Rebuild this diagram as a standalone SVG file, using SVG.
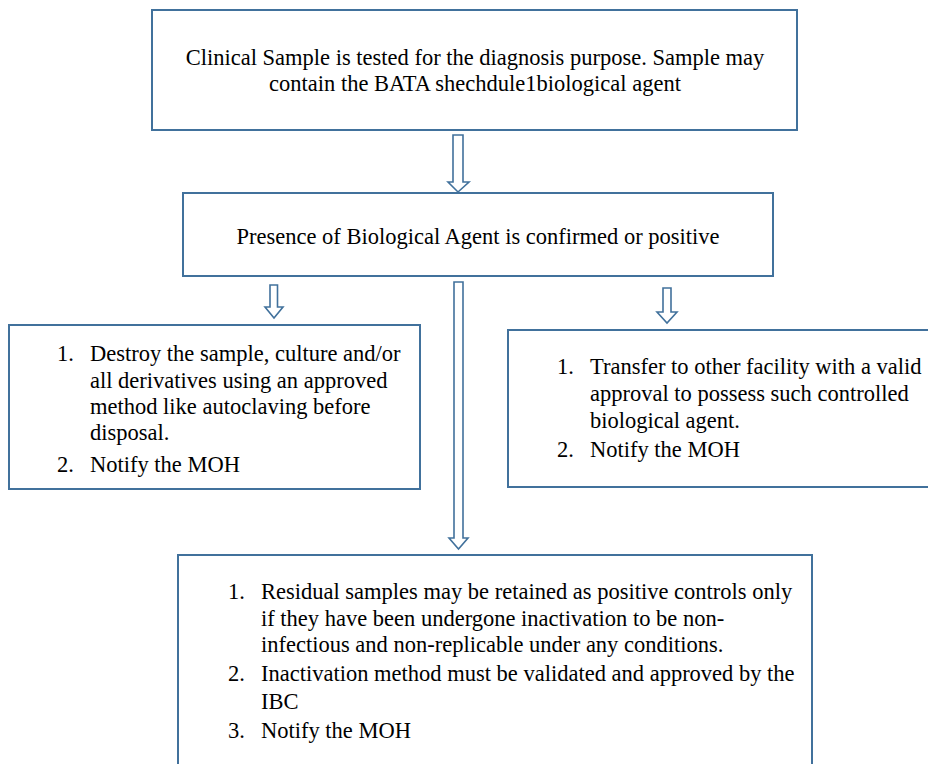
<svg xmlns="http://www.w3.org/2000/svg" width="928" height="764" viewBox="0 0 928 764">
<style>
.box{fill:#fff;stroke:#41719c;stroke-width:2}
.arr{fill:#fff;stroke:#41719c;stroke-width:1.6;stroke-linejoin:miter}
text{font-family:"Liberation Serif","Times New Roman",serif;font-size:22.5px;fill:#000}
.c{text-anchor:middle}
</style>
<rect width="928" height="764" fill="#fff"/>
<g id="connectors">
<path class="arr" d="M453,135 H463 V182 H469 L458,192 L448,182 H453 Z"/>
<path class="arr" d="M270,285 H277.5 V307 H283 L274,318 L265,307 H270 Z"/>
<path class="arr" d="M454,282 H463 V538 H468 L458.5,549 L449,538 H454 Z"/>
<path class="arr" d="M663,288 H671 V312 H677 L667,323 L657,312 H663 Z"/>
</g>
<g id="n1">
<rect class="box" x="152" y="10" width="645" height="120"/>
<text class="c" x="475" y="65">Clinical Sample is tested for the diagnosis purpose. Sample may</text>
<text class="c" x="475" y="91">contain the BATA shechdule1biological agent</text>
</g>
<g id="n2">
<rect class="box" x="183" y="193" width="590" height="83"/>
<text class="c" x="478" y="244">Presence of Biological Agent is confirmed or positive</text>
</g>
<g id="n3">
<rect class="box" x="9" y="325" width="411" height="164"/>
<text x="57" y="361">1.</text>
<text x="90" y="361">Destroy the sample, culture and/or</text>
<text x="90" y="388">all derivatives using an approved</text>
<text x="90" y="414">method like autoclaving before</text>
<text x="90" y="440">disposal.</text>
<text x="57" y="472">2.</text>
<text x="90" y="472">Notify the MOH</text>
</g>
<g id="n4">
<rect class="box" x="508" y="330" width="440" height="157"/>
<text x="557" y="374">1.</text>
<text x="590" y="374">Transfer to other facility with a valid</text>
<text x="590" y="401">approval to possess such controlled</text>
<text x="590" y="428">biological agent.</text>
<text x="557" y="457">2.</text>
<text x="590" y="457">Notify the MOH</text>
</g>
<g id="n5">
<rect class="box" x="178" y="555" width="634" height="230"/>
<text x="228" y="599">1.</text>
<text x="261" y="599">Residual samples may be retained as positive controls only</text>
<text x="261" y="626">if they have been undergone inactivation to be non-</text>
<text x="261" y="652">infectious and non-replicable under any conditions.</text>
<text x="228" y="681">2.</text>
<text x="261" y="681">Inactivation method must be validated and approved by the</text>
<text x="261" y="709">IBC</text>
<text x="228" y="738">3.</text>
<text x="261" y="738">Notify the MOH</text>
</g>
</svg>
